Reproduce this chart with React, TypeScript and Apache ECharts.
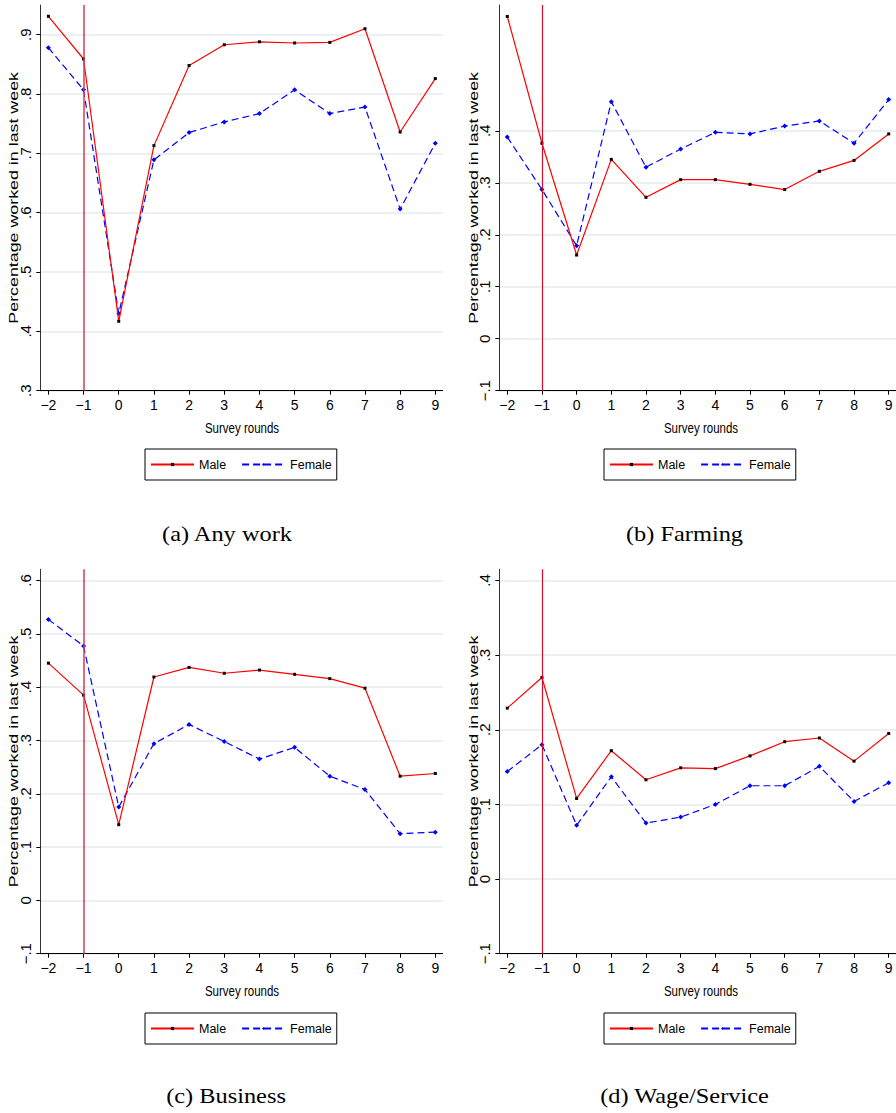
import React, { useEffect, useRef } from "react";
import * as echarts from "echarts";

// ---------- data ----------
const ROUNDS = [-2, -1, 0, 1, 2, 3, 4, 5, 6, 7, 8, 9];

const ANY_MALE = [0.931, 0.859, 0.417, 0.713, 0.848, 0.883, 0.888, 0.886, 0.887, 0.91, 0.736, 0.826];
const ANY_FEMALE = [0.878, 0.807, 0.43, 0.689, 0.735, 0.753, 0.767, 0.807, 0.767, 0.778, 0.606, 0.717];

const FARM_MALE = [0.62, 0.376, 0.161, 0.345, 0.272, 0.306, 0.306, 0.297, 0.287, 0.322, 0.343, 0.394];
const FARM_FEMALE = [0.388, 0.287, 0.179, 0.456, 0.33, 0.365, 0.397, 0.394, 0.409, 0.419, 0.376, 0.46];

const BUS_MALE = [0.445, 0.385, 0.142, 0.419, 0.437, 0.426, 0.432, 0.424, 0.416, 0.398, 0.233, 0.238];
const BUS_FEMALE = [0.527, 0.477, 0.175, 0.294, 0.33, 0.298, 0.265, 0.287, 0.233, 0.208, 0.125, 0.128];

const WAGE_MALE = [0.229, 0.27, 0.108, 0.172, 0.133, 0.149, 0.148, 0.165, 0.184, 0.189, 0.158, 0.195];
const WAGE_FEMALE = [0.144, 0.18, 0.072, 0.137, 0.075, 0.083, 0.1, 0.125, 0.125, 0.151, 0.104, 0.129];

const Y_TICKS_ANY = [0.3, 0.4, 0.5, 0.6, 0.7, 0.8, 0.9];
const Y_TICKS_FARM = [-0.1, 0, 0.1, 0.2, 0.3, 0.4];
const Y_TICKS_BUS = [-0.1, 0, 0.1, 0.2, 0.3, 0.4, 0.5, 0.6];
const Y_TICKS_WAGE = [-0.1, 0, 0.1, 0.2, 0.3, 0.4];

const CAPTIONS = ["(a) Any work", "(b) Farming", "(c) Business", "(d) Wage/Service"];
const LEGEND_NAMES = ["Male", "Female"];
const X_TITLE = "Survey rounds";
const Y_TITLE = "Percentage worked in last week";
const EVENT_ROUND = -1;

// ---------- layout ----------
const SANS = '"Liberation Sans", Arial, sans-serif';
const SERIF = '"Liberation Serif", "DejaVu Serif", serif';

const GRID_W = 402.4;
const X_MIN = -2.23;
const X_MAX = 9.21;

const panels = [
  { male: ANY_MALE, female: ANY_FEMALE, ticks: Y_TICKS_ANY, yMin: 0.3, yMax: 0.95, left: 40.3, top: 5, height: 385.7, legLeft: 145, legTop: 449, capX: 227, capY: 534, titleX: 14, vColor: "#d23c55", vWidth: 1.5 },
  { male: FARM_MALE, female: FARM_FEMALE, ticks: Y_TICKS_FARM, yMin: -0.1, yMax: 0.642, left: 499.3, top: 5, height: 385.7, legLeft: 604, legTop: 449, capX: 684.5, capY: 534, titleX: 473.8, vColor: "#d0102c", vWidth: 1.2 },
  { male: BUS_MALE, female: BUS_FEMALE, ticks: Y_TICKS_BUS, yMin: -0.1, yMax: 0.621, left: 40.3, top: 569.3, height: 384.4, legLeft: 145, legTop: 1013, capX: 226, capY: 1096, titleX: 14, vColor: "#d23c55", vWidth: 1.5 },
  { male: WAGE_MALE, female: WAGE_FEMALE, ticks: Y_TICKS_WAGE, yMin: -0.1, yMax: 0.415, left: 499.3, top: 569.3, height: 384.4, legLeft: 604, legTop: 1013, capX: 684.5, capY: 1096, titleX: 473.8, vColor: "#d0102c", vWidth: 1.2 },
];

const fmtX = (v: number) => (v < 0 ? "\u2212" + Math.abs(v) : String(v));
const fmtY = (v: number) => {
  const r = Math.round(v * 10) / 10;
  if (r === 0) return "0";
  const s = String(Math.abs(r)).replace(/^0/, "");
  return (r < 0 ? "\u2212" : "") + s;
};

function buildOption() {
  const grid: any[] = [];
  const xAxis: any[] = [];
  const yAxis: any[] = [];
  const series: any[] = [];
  const legend: any[] = [];
  const graphic: any[] = [];

  panels.forEach((p, i) => {
    grid.push({ left: p.left, top: p.top, width: GRID_W, height: p.height, containLabel: false });
    xAxis.push({
      type: "value",
      gridIndex: i,
      min: X_MIN,
      max: X_MAX,
      axisLine: { show: true, onZero: false, lineStyle: { color: "#000", width: 1 } },
      axisTick: { show: true, length: 4, customValues: ROUNDS, lineStyle: { color: "#000", width: 1 } },
      axisLabel: { customValues: ROUNDS, formatter: fmtX, fontFamily: SANS, fontSize: 14, color: "#000", margin: 7 },
      splitLine: { show: false },
    });
    yAxis.push({
      type: "value",
      gridIndex: i,
      min: p.yMin,
      max: p.yMax,
      axisLine: { show: true, onZero: false, lineStyle: { color: "#333", width: 1 } },
      axisTick: { show: true, length: 4, customValues: p.ticks, lineStyle: { color: "#000", width: 1 } },
      axisLabel: { customValues: p.ticks, formatter: fmtY, rotate: 90, fontFamily: SANS, fontSize: 15, color: "#000", margin: 7 },
      splitLine: { show: true, lineStyle: { color: "#e4ecef", width: 1.5 } },
    });
    series.push({
      type: "line",
      name: LEGEND_NAMES[0],
      xAxisIndex: i,
      yAxisIndex: i,
      data: ROUNDS.map((r, j) => [r, p.male[j]]),
      symbol: "rect",
      symbolSize: 3,
      showSymbol: true,
      itemStyle: { color: "#000" },
      lineStyle: { color: "#ff0000", width: 1.2 },
      z: 4,
      markLine: {
        silent: true,
        symbol: ["none", "none"],
        label: { show: false },
        lineStyle: { color: p.vColor, width: p.vWidth, type: "solid" },
        data: [{ xAxis: EVENT_ROUND }],
      },
    });
    series.push({
      type: "line",
      name: LEGEND_NAMES[1],
      xAxisIndex: i,
      yAxisIndex: i,
      data: ROUNDS.map((r, j) => [r, p.female[j]]),
      symbol: "diamond",
      symbolSize: 5,
      showSymbol: true,
      itemStyle: { color: "#0000ff" },
      lineStyle: { color: "#0000ff", width: 1.2, type: [7, 4] },
      z: 3,
    });
    legend.push({
      left: p.legLeft,
      top: p.legTop,
      orient: "horizontal",
      data: LEGEND_NAMES,
      itemWidth: 43,
      itemHeight: 4,
      itemGap: 15,
      padding: [9, 5, 9, 5],
      borderColor: "#000",
      borderWidth: 1,
      borderRadius: 0,
      selectedMode: false,
      textStyle: { fontFamily: SANS, fontSize: 12.5, color: "#000" },
    });
    graphic.push({
      type: "text",
      x: p.left + GRID_W / 2 + 0.5,
      y: p.top + p.height + 37.5,
      scaleY: 1.35,
      style: { text: X_TITLE, fontFamily: SANS, fontSize: 11.5, fill: "#000", textAlign: "center", textVerticalAlign: "middle" },
    });
    graphic.push({
      type: "text",
      x: p.capX,
      y: p.capY,
      scaleX: 1.16,
      style: { text: CAPTIONS[i], fontFamily: SERIF, fontSize: 21, fill: "#000", textAlign: "center", textVerticalAlign: "middle" },
    });
    graphic.push({
      type: "text",
      x: p.titleX,
      y: p.top + p.height / 2,
      rotation: Math.PI / 2,
      scaleX: 1.487,
      style: { text: Y_TITLE, fontFamily: SANS, fontSize: 12, fill: "#000", textAlign: "center", textVerticalAlign: "middle" },
    });
  });

  return {
    animation: false,
    backgroundColor: "#fff",
    textStyle: { fontFamily: SANS },
    grid,
    xAxis,
    yAxis,
    series,
    legend,
    graphic,
  };
}

export default function App() {
  const ref = useRef<HTMLDivElement>(null);
  useEffect(() => {
    if (!ref.current) return;
    const chart = echarts.init(ref.current, null, { renderer: "svg" });
    chart.setOption(buildOption() as any);
    return () => chart.dispose();
  }, []);
  return (
    <div
      ref={ref}
      style={{ position: "fixed", left: 0, top: 0, width: 896, height: 1113, background: "#fff", overflow: "hidden" }}
    />
  );
}
